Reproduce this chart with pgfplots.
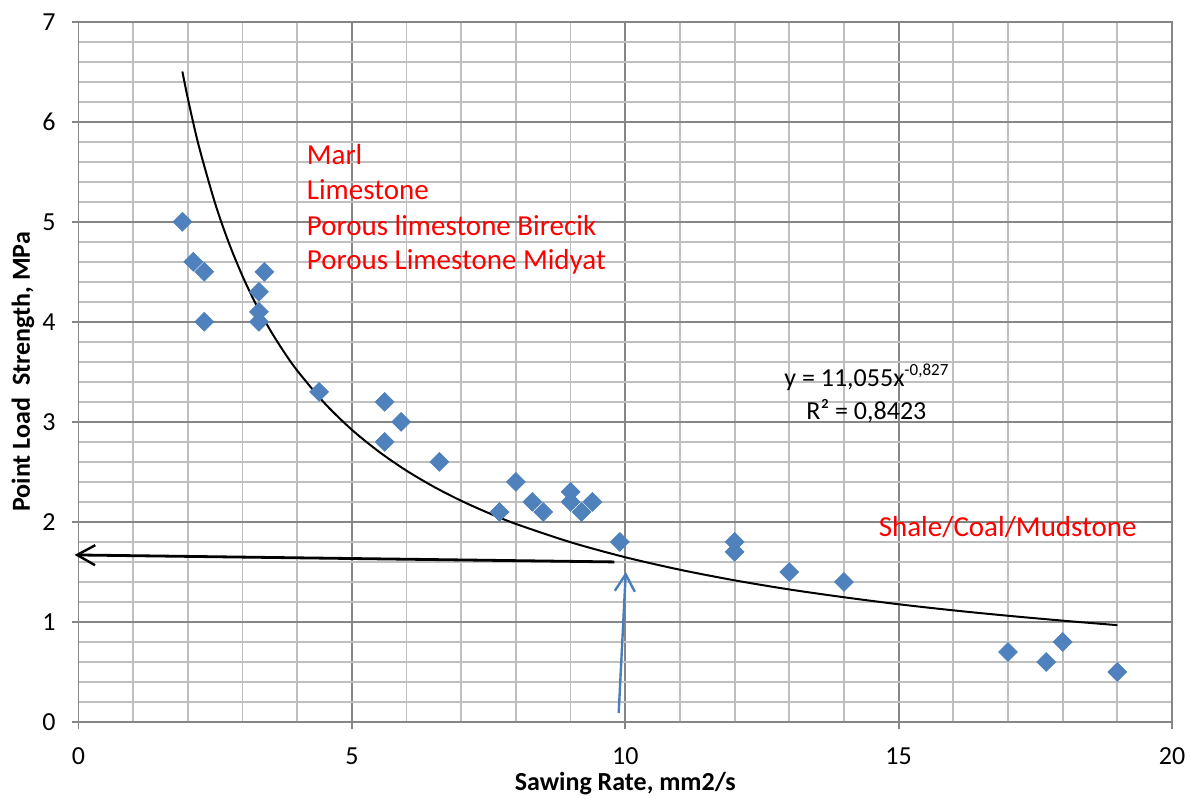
\documentclass[border=0pt]{standalone}
\usepackage{fontspec}
\setmainfont{Carlito}
\usepackage{pgfplots}
\pgfplotsset{compat=1.18}
\usetikzlibrary{arrows.meta}
\definecolor{mk}{HTML}{4F81BD}
\definecolor{arr}{HTML}{4A7EBB}
\definecolor{majg}{HTML}{868686}
\definecolor{ming}{HTML}{BFBFBF}
\definecolor{txtred}{HTML}{FF0000}
\begin{document}
\begin{tikzpicture}
\begin{axis}[
  scale only axis, width=546.75pt, height=350.15pt,
  xmin=0, xmax=20, ymin=0, ymax=7,
  xtick={0,5,10,15,20}, ytick={0,1,2,3,4,5,6,7},
  minor x tick num=4, minor y tick num=4,
  grid=both,
  minor grid style={draw=ming, line width=0.9pt},
  major grid style={draw=majg, line width=0.9pt},
  axis line style={draw=majg, line width=0.9pt},
  tick style={draw=majg, line width=0.9pt},
  tick align=outside, major tick length=3.5pt, minor tick length=0pt,
  tick pos=left,
  /pgf/number format/assume math mode=true,
  ticklabel style={font=\fontsize{13}{15}\selectfont, text=black},
  xticklabel style={yshift=-6pt},
  yticklabel style={xshift=-4.5pt},
  xlabel={\bfseries Sawing Rate, mm2/s},
  ylabel={\bfseries Point Load\ \ Strength, MPa},
  xlabel style={at={(0.5,-0.0971)}, anchor=base, font=\fontsize{13}{15}\selectfont},
  ylabel style={at={(-0.04436,0.5)}, anchor=base, rotate=0, font=\fontsize{13}{15}\selectfont},
  clip=false,
]
% measured points
\addplot[only marks, mark=square*, mark size=3.3pt, mark options={rotate=45, fill=mk, draw=mk}] coordinates {
(1.9,5.0) (2.1,4.6) (2.3,4.5) (2.3,4.0) (3.4,4.5) (3.3,4.3) (3.3,4.1) (3.3,4.0)
(4.4,3.3) (5.6,3.2) (5.9,3.0) (5.6,2.8) (6.6,2.6) (7.7,2.1) (8.0,2.4) (8.3,2.2)
(8.5,2.1) (9.0,2.3) (9.0,2.2) (9.2,2.1) (9.4,2.2) (9.9,1.8) (12.0,1.8) (12.0,1.7)
(13.0,1.5) (14.0,1.4) (17.0,0.7) (17.7,0.6) (18.0,0.8) (19.0,0.5)
};
% power trendline y = 11.055 x^-0.827 (tabulated)
\addplot[black, line width=1pt, smooth] coordinates {
(1.9,6.502) (2.0,6.232) (2.2,5.759) (2.5,5.182) (2.75,4.789) (3.0,4.457)
(3.25,4.171) (3.5,3.923) (3.75,3.706) (4.0,3.513) (4.5,3.187) (5.0,2.921)
(5.5,2.700) (6.0,2.512) (6.5,2.351) (7.0,2.211) (7.5,2.089) (8.0,1.980)
(9.0,1.797) (10.0,1.647) (11.0,1.522) (12.0,1.416) (13.0,1.325) (14.0,1.247)
(15.0,1.177) (16.0,1.116) (17.0,1.062) (18.0,1.013) (19.0,0.968)
};
% arrows
\addplot[black, line width=1.4pt, -{Straight Barb[length=9pt,width=10pt,line width=1.2pt]}] coordinates {(9.8,1.60) (-0.07,1.67)};
\addplot[arr, line width=1.2pt, -{Straight Barb[length=8.5pt,width=10pt,line width=1.2pt]}] coordinates {(9.88,0.09) (10.01,1.50)};
% annotations
\node[anchor=base west, inner sep=0pt, text=txtred, font=\fontsize{14.5}{17}\selectfont] at (axis cs:4.17,5.57) {Marl};
\node[anchor=base west, inner sep=0pt, text=txtred, font=\fontsize{14.5}{17}\selectfont] at (axis cs:4.17,5.22) {Limestone};
\node[anchor=base west, inner sep=0pt, text=txtred, font=\fontsize{14.5}{17}\selectfont] at (axis cs:4.17,4.86) {Porous limestone Birecik};
\node[anchor=base west, inner sep=0pt, text=txtred, font=\fontsize{14.5}{17}\selectfont] at (axis cs:4.17,4.52) {Porous Limestone Midyat};
\node[anchor=base west, inner sep=0pt, text=txtred, font=\fontsize{14.5}{17}\selectfont] at (axis cs:14.63,1.85) {Shale/Coal/Mudstone};
\node[anchor=base, inner sep=0pt, font=\fontsize{13}{15}\selectfont] at (axis cs:14.41,3.35) {y = 11,055x\raisebox{0.42em}{\fontsize{8.5}{10}\selectfont -0,827}};
\node[anchor=base, inner sep=0pt, font=\fontsize{13}{15}\selectfont] at (axis cs:14.41,3.02) {R² = 0,8423};
\end{axis}
\pgfresetboundingbox
\path[use as bounding box] (-39.25pt,-38pt) rectangle (557.75pt,361pt);
\end{tikzpicture}
\end{document}
